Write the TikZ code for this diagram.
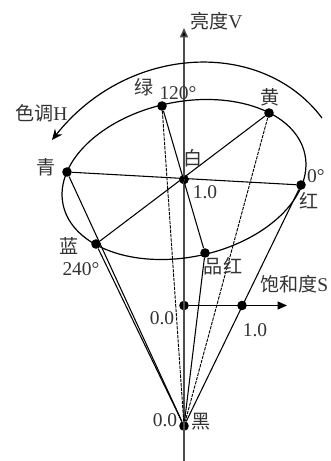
\documentclass[tikz,border=0pt]{standalone}
\usepackage{fontspec}
\setmainfont{Liberation Serif}
\newfontfamily\cjk{Noto Sans CJK SC}[Scale=0.98]
\usetikzlibrary{arrows.meta}
\tikzset{
  dot/.style={circle,fill=black,inner sep=0pt,minimum size=7.2pt},
  lab/.style={inner sep=0pt,font=\fontsize{14.6pt}{15pt}\selectfont,text=black!80},
  ln/.style={draw=black,line width=0.8pt},
  dsh/.style={draw=black,line width=0.7pt,dash pattern=on 2.5pt off 0.8pt},
  axis/.style={draw=black!70,line width=1.1pt},
  tip/.style={-{Triangle[length=7pt,width=6pt,fill=black]}}
}
\begin{document}
\begin{tikzpicture}[x=0.75pt,y=-0.75pt]
\useasboundingbox (0,0) rectangle (331,461);
\coordinate (axtop) at (184,28);
\coordinate (axbot) at (184,461);
\coordinate (stip) at (287,305.5);
\coordinate (arcs) at (322,118);
\coordinate (arce) at (52,140);
\node[dot] (w) at (184,179.5) {};
\node[dot] (g) at (162,106) {};
\node[dot] (y) at (269,113) {};
\node[dot] (c) at (67,172) {};
\node[dot] (r) at (301,185) {};
\node[dot] (b) at (96,244) {};
\node[dot] (m) at (205,253) {};
\node[dot] (k) at (184,426) {};
\node[dot] (s0) at (184,305.5) {};
\node[dot] (s1) at (242,305.5) {};
\draw[axis,tip] (axbot) -- (axtop);
\draw[ln,line width=0.9pt] (184,179.5) ellipse[x radius=123.5,y radius=77.6,rotate=11.7];
\draw[ln,line width=0.9pt,-{Stealth[length=8pt,width=7pt]}] (arcs) .. controls (262,38) and (128,44) .. (arce);
\draw[ln] (c) -- (r);
\draw[ln] (y) -- (b);
\draw[ln] (g) -- (m);
\draw[ln] (m) -- (k);
\draw[ln] (c) -- (k);
\draw[ln] (b) -- (k);
\draw[ln] (r) -- (k);
\draw[dsh] (g) -- (k);
\draw[dsh] (y) -- (k);
\draw[ln,line width=0.7pt,tip] (s0) -- (stip);
\node[lab,anchor=west] at (190,21) {{\cjk 亮度}V};
\node[lab] at (144,87) {\cjk 绿};
\node[lab] at (178,93) {120°};
\node[lab] at (270,97) {\cjk 黄};
\node[lab,anchor=west] at (15,113) {{\cjk 色调}H};
\node[lab] at (46,167) {\cjk 青};
\node[lab] at (193,158) {\cjk 白};
\node[lab] at (205,192) {1.0};
\node[lab] at (316,176) {0°};
\node[lab] at (309,201) {\cjk 红};
\node[lab] at (69,246) {\cjk 蓝};
\node[lab] at (81,269) {240°};
\node[lab] at (223,266) {\cjk 品红};
\node[lab,anchor=west] at (260,284) {{\cjk 饱和度}S};
\node[lab] at (162,318) {0.0};
\node[lab] at (255,330) {1.0};
\node[lab] at (165,420) {0.0};
\node[lab] at (201,422) {\cjk 黑};
\end{tikzpicture}
\end{document}
